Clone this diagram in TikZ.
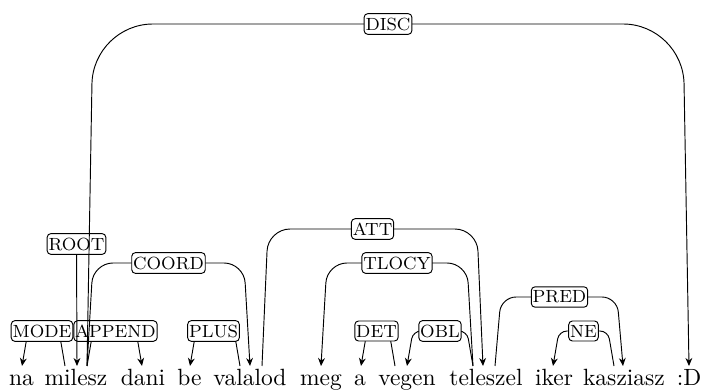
\documentclass[tikz,border=0pt]{standalone}
\usetikzlibrary{arrows.meta,calc}
\tikzset{
  word/.style={anchor=base, inner sep=0pt, font=\fontsize{10}{12}\selectfont},
  lab/.style={draw, rounded corners=1.6pt, fill=white, inner xsep=0.6pt, inner ysep=1.7pt, font=\fontsize{7.5}{9}\selectfont, line width=0.4pt},
  edge/.style={-{Stealth[length=3.4pt,width=2.9pt]}, line width=0.4pt},
  lvA/.style={rounded corners=3.4pt},
  lvB/.style={rounded corners=6.4pt},
  lvC/.style={rounded corners=8.5pt},
  lvD/.style={rounded corners=9.4pt},
  lvTop/.style={rounded corners=25.5pt}
}
\begin{document}
\begin{tikzpicture}[x=0.4255pt,y=-0.4255pt]
\useasboundingbox (0,0) rectangle (702,391);

% words
\node[word] (w1) at (21.5,386) {na};
\node[word] (w2) at (76,386) {milesz};
\node[word] (w3) at (143,386) {dani};
\node[word] (w4) at (189.5,386) {be};
\node[word] (w5) at (250,386) {valalod};
\node[word] (w6) at (321,386) {meg};
\node[word] (w7) at (360,386) {a};
\node[word] (w8) at (407,386) {vegen};
\node[word] (w9) at (486,386) {teleszel};
\node[word] (w10) at (554,386) {iker};
\node[word] (w11) at (624,386) {kasziasz};
\node[word] (w12) at (689,386) {:D};

% ports
\coordinate (w1i) at (22,366);
\coordinate (w2l) at (65,366);
\coordinate (w2i) at (77,366);
\coordinate (w2r) at (87,366);
\coordinate (w3i) at (142,366);
\coordinate (w4i) at (190,366);
\coordinate (w5l) at (240,366);
\coordinate (w5i) at (250,366);
\coordinate (w5r) at (262,366);
\coordinate (w6i) at (321,366);
\coordinate (w7i) at (361,366);
\coordinate (w8l) at (395,366);
\coordinate (w8i) at (407,366);
\coordinate (w9l) at (473,366);
\coordinate (w9i) at (483,366);
\coordinate (w9r) at (495,366);
\coordinate (w10i) at (553,366);
\coordinate (w11l) at (614,366);
\coordinate (w11i) at (623,366);
\coordinate (w12i) at (689,366);

% MODE
\coordinate (pmode) at (42,331);
\draw[edge,lvA] (w2l) -- ($(w2l |- pmode)+(-6,0)$) -- ($(w1i |- pmode)+(6,0)$) -- (w1i);
\node[lab] (lmode) at (pmode) {MODE};

% APPEND
\coordinate (pappend) at (115.5,331);
\draw[edge,lvA] (w2r) -- ($(w2r |- pappend)+(6,0)$) -- ($(w3i |- pappend)+(-6,0)$) -- (w3i);
\node[lab] (lappend) at (pappend) {APPEND};

% PLUS
\coordinate (pplus) at (213.5,331);
\draw[edge,lvA] (w5l) -- ($(w5l |- pplus)+(-6,0)$) -- ($(w4i |- pplus)+(6,0)$) -- (w4i);
\node[lab] (lplus) at (pplus) {PLUS};

% DET
\coordinate (pdet) at (376.5,331);
\draw[edge,lvA] (w8l) -- ($(w8l |- pdet)+(-6,0)$) -- ($(w7i |- pdet)+(6,0)$) -- (w7i);
\node[lab] (ldet) at (pdet) {DET};

% OBL
\coordinate (pobl) at (440,331);
\draw[edge,lvA] (w9l) -- ($(w9l |- pobl)+(-6,0)$) -- ($(w8i |- pobl)+(6,0)$) -- (w8i);
\node[lab] (lobl) at (pobl) {OBL};

% NE
\coordinate (pne) at (583.5,331);
\draw[edge,lvA] (w11l) -- ($(w11l |- pne)+(-6,0)$) -- ($(w10i |- pne)+(6,0)$) -- (w10i);
\node[lab] (lne) at (pne) {NE};

% PRED
\coordinate (ppred) at (559.5,297);
\draw[edge,lvB] (w9r) -- ($(w9r |- ppred)+(6,0)$) -- ($(w11i |- ppred)+(-6,0)$) -- (w11i);
\node[lab] (lpred) at (ppred) {PRED};

% TLOCY
\coordinate (ptlocy) at (397,263);
\draw[edge,lvC] (w9l) -- ($(w9l |- ptlocy)+(-6,0)$) -- ($(w6i |- ptlocy)+(6,0)$) -- (w6i);
\node[lab] (ltlocy) at (ptlocy) {TLOCY};

% ATT
\coordinate (patt) at (372.5,229);
\draw[edge,lvD] (w5r) -- ($(w5r |- patt)+(6,0)$) -- ($(w9i |- patt)+(-6,0)$) -- (w9i);
\node[lab] (latt) at (patt) {ATT};

% ROOT
\node[lab] (lroot) at (76.5,244) {ROOT};
\draw[edge] (lroot) -- (w2i);

% COORD
\coordinate (pcoord) at (168.5,263);
\draw[edge,lvC] (w2r) -- ($(w2r |- pcoord)+(6,0)$) -- ($(w5i |- pcoord)+(-6,0)$) -- (w5i);
\node[lab] (lcoord) at (pcoord) {COORD};

% DISC
\coordinate (pdisc) at (388,24);
\draw[edge,lvTop] (w2r) -- ($(w2r |- pdisc)+(6,0)$) -- ($(w12i |- pdisc)+(-6,0)$) -- (w12i);
\node[lab] (ldisc) at (pdisc) {DISC};
\end{tikzpicture}
\end{document}
